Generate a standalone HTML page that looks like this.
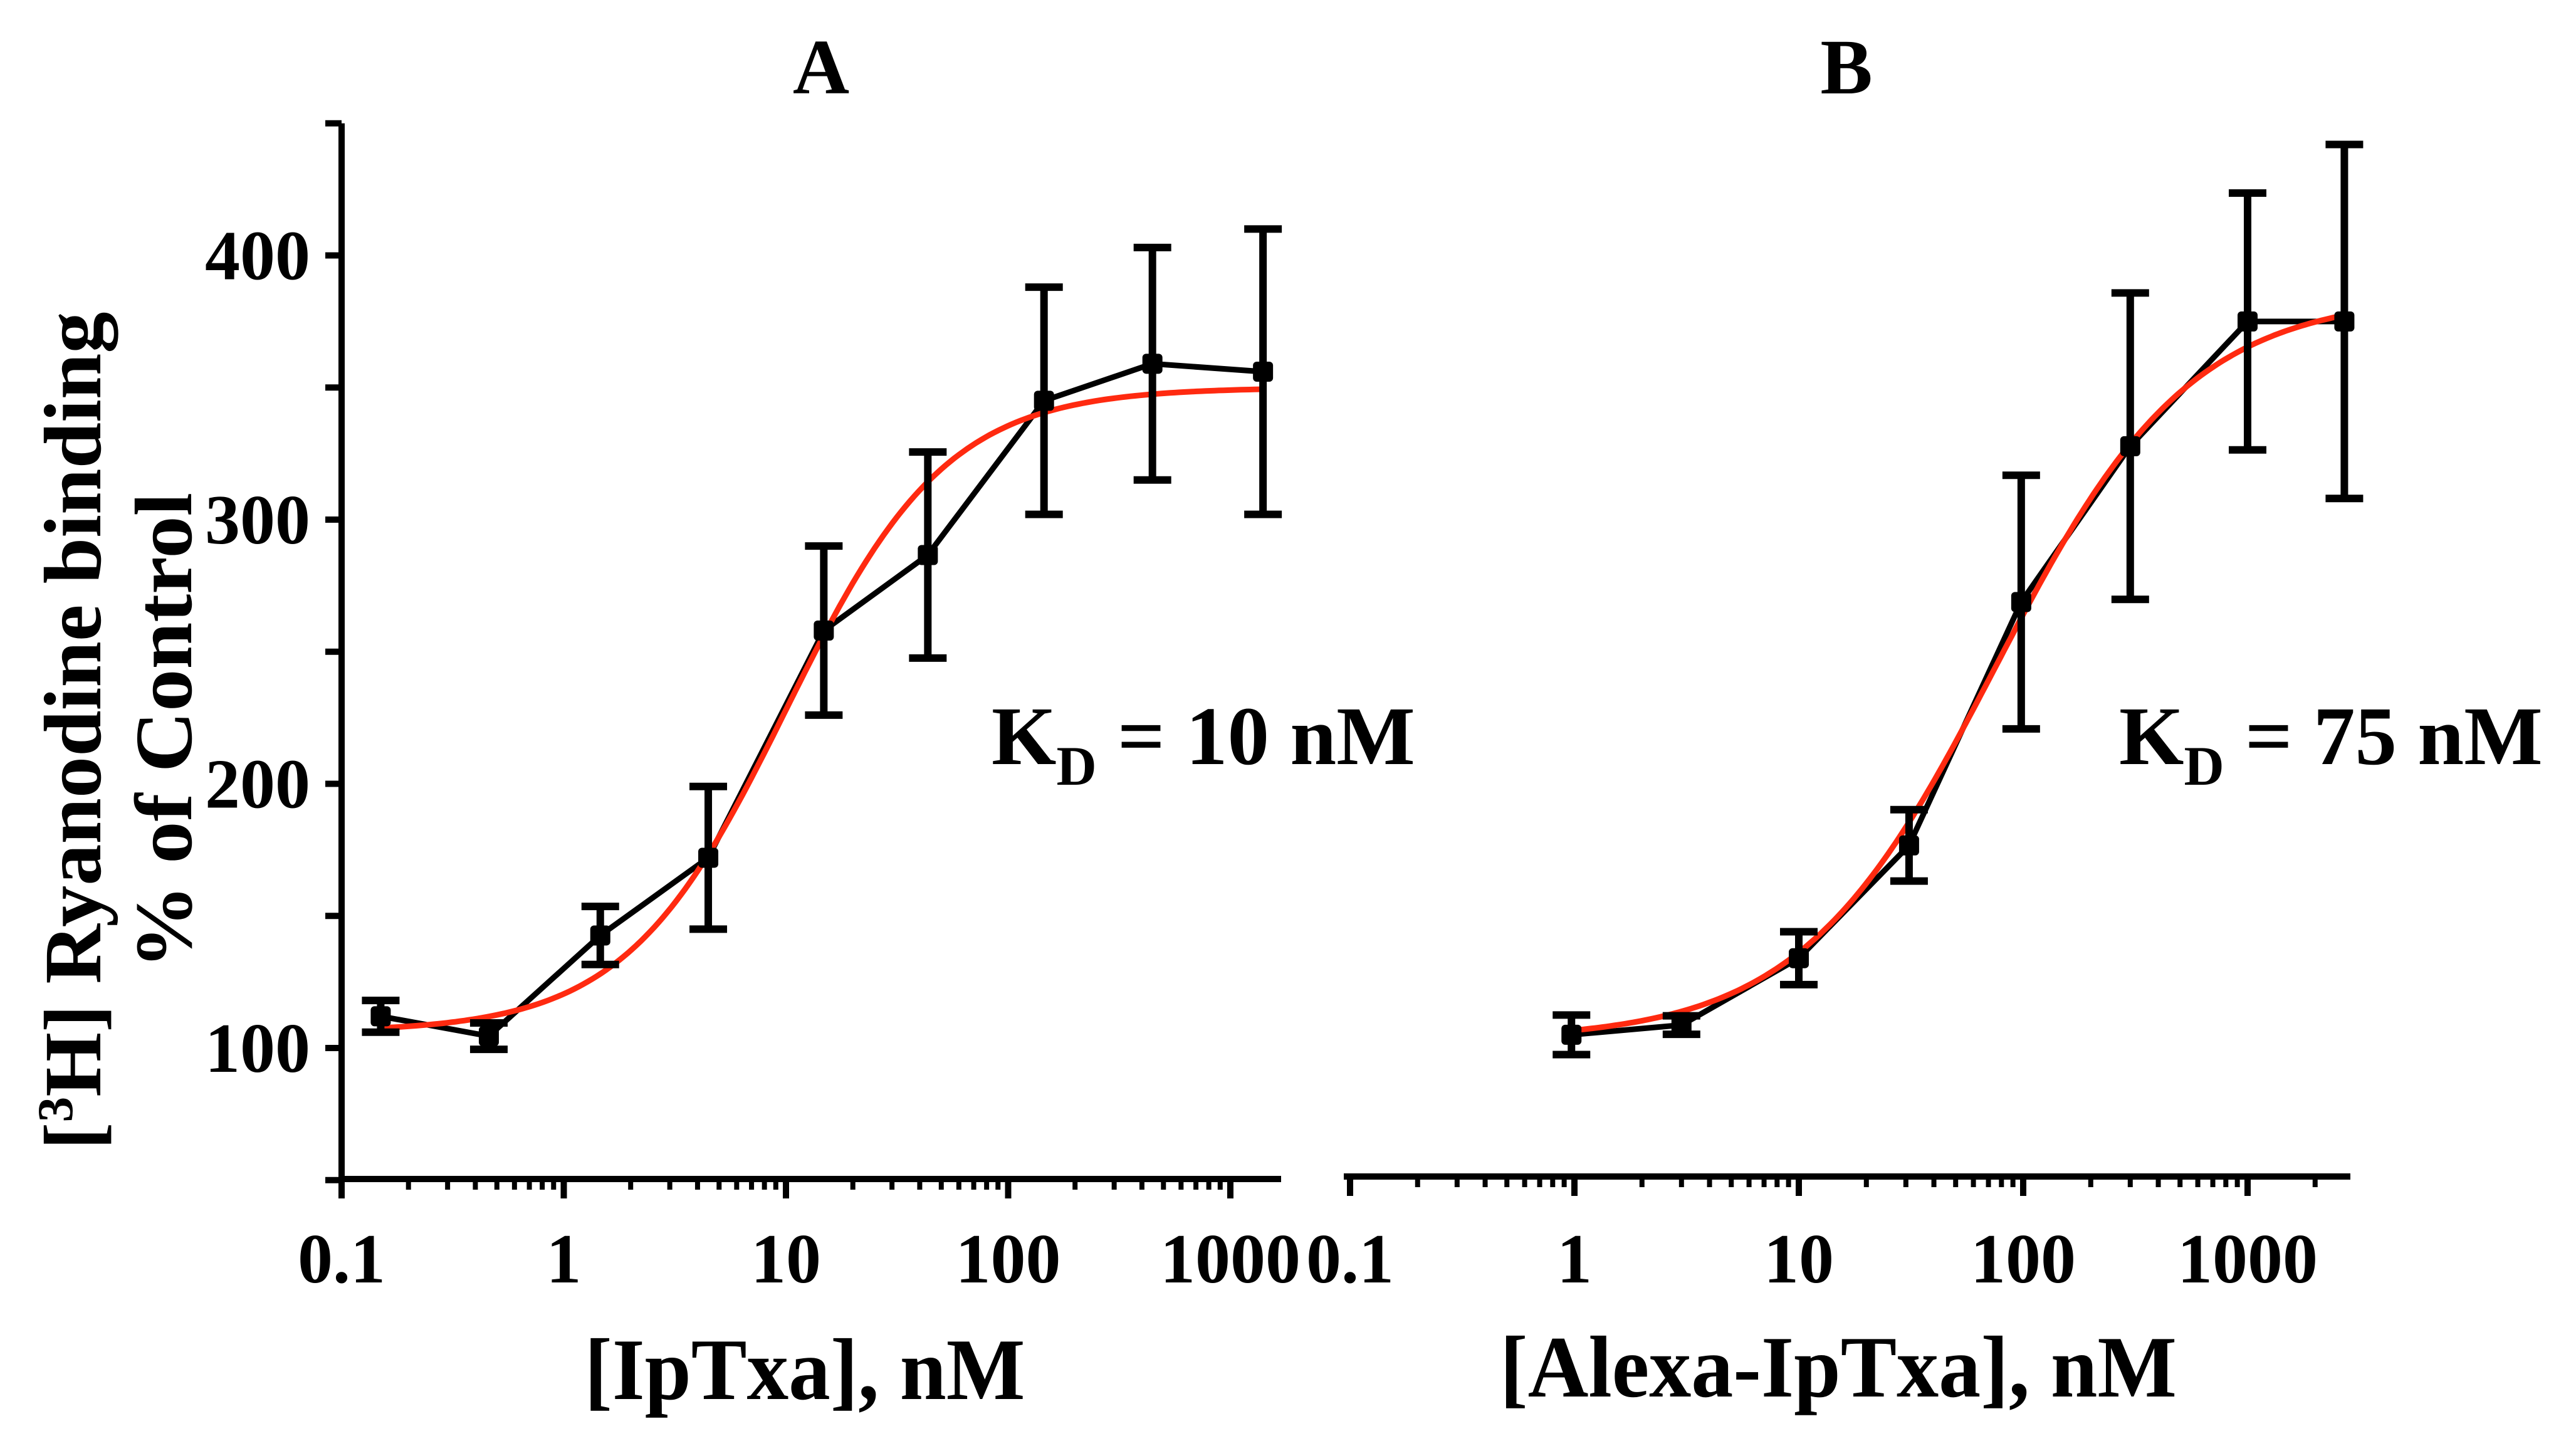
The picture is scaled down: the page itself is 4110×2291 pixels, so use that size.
<!DOCTYPE html>
<html><head><meta charset="utf-8">
<style>
html,body{margin:0;padding:0;background:#fff;}
svg{display:block;}
text{font-family:"Liberation Serif","DejaVu Serif",serif;font-weight:bold;fill:#000;}
</style></head>
<body>
<svg id="chart" width="4110" height="2291" viewBox="0 0 4110 2291" xmlns="http://www.w3.org/2000/svg">
<rect x="0" y="0" width="4110" height="2291" fill="#fff"/>
<text x="1310" y="149" font-size="125" text-anchor="middle">A</text>
<text x="2946" y="149" font-size="125" text-anchor="middle">B</text>
<g>
<text transform="translate(160,1166) rotate(-90)" font-size="130" text-anchor="middle" textLength="1337" lengthAdjust="spacingAndGlyphs">[<tspan font-size="80" dy="-45">3</tspan><tspan dy="45">H] Ryanodine binding</tspan></text>
<text transform="translate(305,1166) rotate(-90)" font-size="130" text-anchor="middle" textLength="760" lengthAdjust="spacingAndGlyphs">% of Control</text>
</g>
<text x="1284" y="2232" font-size="140" text-anchor="middle" textLength="703" lengthAdjust="spacingAndGlyphs">[IpTxa], nM</text>
<text x="2933" y="2228" font-size="140" text-anchor="middle" textLength="1080" lengthAdjust="spacingAndGlyphs">[Alexa-IpTxa], nM</text>
<text x="1582" y="1219" font-size="133">K<tspan font-size="89" dy="33">D</tspan><tspan dy="-33"> = 10 nM</tspan></text>
<text x="3381" y="1219" font-size="133">K<tspan font-size="89" dy="33">D</tspan><tspan dy="-33"> = 75 nM</tspan></text>
<g id="plot"></g>
</svg>
<script>
// Panel A data
const concA = [0.15, 0.46, 1.46, 4.47, 14.8, 43.5, 145, 446, 1403];
const valA = [112, 104.5, 142.6, 172, 258, 286.6, 345, 359, 356];
const errA = [6, 5, 11, 27, 32, 39, 43, 44, 54];
const fitA = [106, 350, 10, 1.2]; // bottom, top, EC50, hill
// Panel B data
const concB = [0.97, 3, 10, 31, 98, 300, 1000, 2700];
const valB = [105, 108.7, 134, 176.7, 268.8, 327.8, 375, 375];
const errB = [7.5, 3.5, 10, 13.5, 48, 58, 48.6, 67];
const fitB = [103, 385, 75, 1.0];
const yTicks = [100, 200, 300, 400];
const xTickLabels = ["0.1", "1", "10", "100", "1000"];

const NS = "http://www.w3.org/2000/svg";
const plot = document.getElementById("plot");
function el(tag, attrs, parent) {
  const e = document.createElementNS(NS, tag);
  for (const k in attrs) e.setAttribute(k, attrs[k]);
  (parent || plot).appendChild(e);
  return e;
}
const Y0 = 1672, YPER = 4.215;
function y(v) { return Y0 - (v - 100) * YPER; }
function xA(c) { return 545 + (Math.log10(c) + 1) * 354.5; }
function xB(c) { return 2154 + (Math.log10(c) + 1) * 358; }

const ya = el("line", {x1: 545, y1: y(450), x2: 545, y2: 1883, stroke: "#000", "stroke-width": 10});


for (let v = 50; v <= 450; v += 50) {
  const t = el("line", {x1: 519, y1: y(v), x2: 545, y2: y(v), stroke: "#000", "stroke-width": 10});
  
  
}
yTicks.forEach(v => {
  const t = el("text", {x: 495, y: y(v) + 38, "font-size": 112, "text-anchor": "end"});
  t.textContent = String(v);
  
  
});

function xAxis(xf, x0, x1, yAx, name) {
  const a = el("line", {x1: x0, y1: yAx, x2: x1, y2: yAx, stroke: "#000", "stroke-width": 10});
  
  
  for (let d = -1; d <= 3; d++) {
    for (let m = 1; m <= 9; m++) {
      const c = m * Math.pow(10, d);
      const px = xf(c);
      if (px > x1 + 2) continue;
      const t = el("line", {x1: px, y1: yAx, x2: px, y2: yAx + (m === 1 ? 31 : 17), stroke: "#000", "stroke-width": m === 1 ? 10 : 8});
      
      
    }
  }
  xTickLabels.forEach(s => {
    const t = el("text", {x: xf(parseFloat(s)), y: 2046, "font-size": 112, "text-anchor": "middle"});
    t.textContent = s;
    
    
  });
}
xAxis(xA, 540, 2044, 1881, 'x-axis-a');
xAxis(xB, 2144, 3750, 1877, 'x-axis-b');

function series(xf, conc, vals, errs, fit, tag) {
  const [b, tp, ec, h] = fit;
  const lo = Math.log10(conc[0]), hi = Math.log10(conc[conc.length - 1]);
  let d = "";
  for (let i = 0; i <= 200; i++) {
    const lc = lo + (hi - lo) * i / 200, c = Math.pow(10, lc);
    const v = b + (tp - b) / (1 + Math.pow(ec / c, h));
    d += (i ? "L" : "M") + xf(c).toFixed(1) + "," + y(v).toFixed(1);
  }
  const pts = conc.map((c, i) => xf(c).toFixed(1) + "," + y(vals[i]).toFixed(1)).join(" ");
  const l = el("polyline", {points: pts, fill: "none", stroke: "#000", "stroke-width": 9});
  
  
  const f = el("path", {d: d, fill: "none", stroke: "#ff2a10", "stroke-width": 9});
  
  
  conc.forEach((c, i) => {
    const px = xf(c), top = y(vals[i] + errs[i]), bot = y(vals[i] - errs[i]);
    const g = el("g", {});
    
    
    el("line", {x1: px, y1: top, x2: px, y2: bot, stroke: "#000", "stroke-width": 12}, g);
    el("line", {x1: px - 30, y1: top, x2: px + 30, y2: top, stroke: "#000", "stroke-width": 12}, g);
    el("line", {x1: px - 30, y1: bot, x2: px + 30, y2: bot, stroke: "#000", "stroke-width": 12}, g);
    const m = el("rect", {x: px - 16, y: y(vals[i]) - 16, width: 32, height: 32, rx: 6, fill: "#000"});
    
    
  });
}
series(xA, concA, valA, errA, fitA, 'a');
series(xB, concB, valB, errB, fitB, 'b');
</script>
</body></html>
